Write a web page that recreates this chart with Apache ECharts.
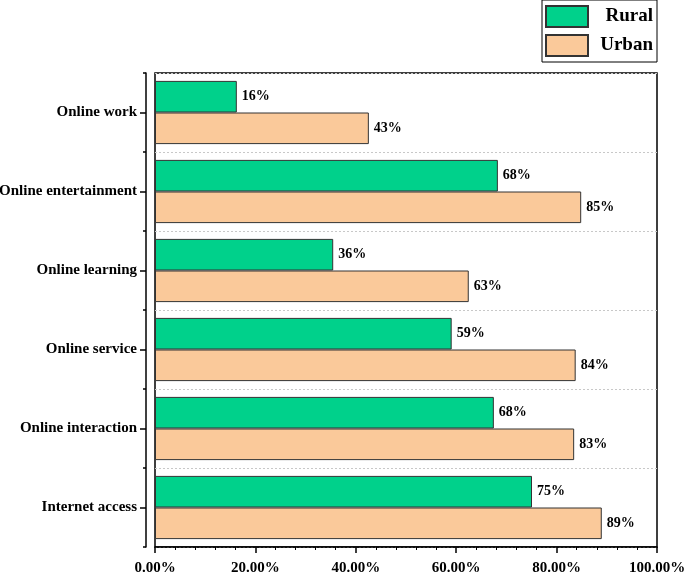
<!DOCTYPE html>
<html><head><meta charset="utf-8">
<script src="https://cdn.jsdelivr.net/npm/echarts@6/dist/echarts.min.js"></script>
<style>html,body{margin:0;padding:0;background:#fff}#c{width:685px;height:574px}</style>
</head><body><div id="c"></div>
<script>
const categories = ['Internet access','Online interaction','Online service','Online learning','Online entertainment','Online work'];
const rural = [75.1, 67.5, 59.1, 35.5, 68.3, 16.3];
const urban = [89.0, 83.5, 83.8, 62.5, 84.9, 42.6];
const ruralLabels = ['75%','68%','59%','36%','68%','16%'];
const urbanLabels = ['89%','83%','84%','63%','85%','43%'];
const xTicks = [0, 20, 40, 60, 80, 100];

const FONT = '"Liberation Serif","Times New Roman",serif';
const chart = echarts.init(document.getElementById('c'), null, {renderer:'canvas'});
chart.setOption({
  animation:false,
  backgroundColor:'#fff',
  legend:{
    orient:'vertical', right:28, top:0, icon:'rect',
    padding:[5,4,5,3], itemGap:6, itemWidth:42, itemHeight:21,
    borderColor:'#000', borderWidth:1,
    formatter:n=>'{a|'+n+'}',
    textStyle:{fontFamily:FONT, fontWeight:'bold', fontSize:19, color:'#000',
      rich:{a:{width:60, align:'right', fontFamily:FONT, fontWeight:'bold', fontSize:19, color:'#000'}}},
    data:['Rural','Urban']
  },
  grid:{left:155, right:28, top:73, bottom:27, containLabel:false, outerBoundsMode:'none',
    show:true, borderColor:'#000', borderWidth:1.5, backgroundColor:'transparent'},
  xAxis:{
    type:'value', min:xTicks[0], max:xTicks[xTicks.length-1], interval:xTicks[1]-xTicks[0],
    axisLine:{show:true, onZero:false, lineStyle:{color:'#000', width:1.5}},
    axisTick:{show:true, length:6, lineStyle:{color:'#000', width:1.5}},
    minorTick:{show:true, splitNumber:5, length:3, lineStyle:{color:'#000', width:1}},
    splitLine:{show:false},
    axisLabel:{formatter:v=>v.toFixed(2)+'%', fontFamily:FONT, fontWeight:'bold', fontSize:15, color:'#000', margin:14}
  },
  yAxis:[{
    type:'category', data:categories, position:'left', offset:9,
    axisLine:{show:true, onZero:false, lineStyle:{color:'#000', width:1.5}},
    axisTick:{show:true, alignWithLabel:true, length:6, lineStyle:{color:'#000', width:1.5}},
    axisLabel:{fontFamily:FONT, fontWeight:'bold', fontSize:15, color:'#000', margin:9},
    splitLine:{show:true, lineStyle:{color:'#c8c8c8', type:[2,2], width:1}}
  },{
    type:'category', data:categories, position:'left', offset:9,
    axisLine:{show:false, onZero:false},
    axisTick:{show:true, length:3, lineStyle:{color:'#000', width:1.5}},
    axisLabel:{show:false},
    splitLine:{show:false}
  }],
  series:[{
    name:'Rural', type:'bar', data:rural, yAxisIndex:0,
    barGap:'0%', barCategoryGap:'20%',
    itemStyle:{color:'#00d18b', borderColor:'#333', borderWidth:1},
    label:{show:true, position:'right', distance:5, formatter:p=>ruralLabels[p.dataIndex],
      fontFamily:FONT, fontWeight:'bold', fontSize:14, color:'#000'}
  },{
    name:'Urban', type:'bar', data:urban, yAxisIndex:0,
    barGap:'0%', barCategoryGap:'20%',
    itemStyle:{color:'#fac99a', borderColor:'#333', borderWidth:1},
    label:{show:true, position:'right', distance:5, formatter:p=>urbanLabels[p.dataIndex],
      fontFamily:FONT, fontWeight:'bold', fontSize:14, color:'#000'}
  }]
});
</script></body></html>
